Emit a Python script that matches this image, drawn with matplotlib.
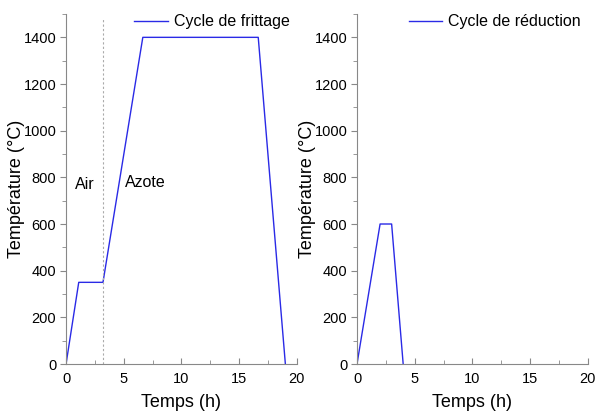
import matplotlib.pyplot as plt
from matplotlib.ticker import MultipleLocator

# Data
t_frittage = [0, 1.1, 3.2, 6.65, 16.65, 19]
T_frittage = [0, 350, 350, 1400, 1400, 0]
t_reduction = [0, 2, 3, 4]
T_reduction = [0, 600, 600, 0]
t_switch = 3.2  # changement d'atmosphère air -> azote

plt.rcParams['font.family'] = ['Liberation Sans', 'DejaVu Sans']
line_color = '#2a2ae6'

fig = plt.figure(figsize=(5.95, 4.12), dpi=100)
ax1 = fig.add_axes([0.111, 0.1165, 0.388, 0.8495])
ax2 = fig.add_axes([0.600, 0.1165, 0.388, 0.8495])

ax1.plot(t_frittage, T_frittage, color=line_color, lw=1, label='Cycle de frittage')
ax1.axvline(t_switch, ymin=0, ymax=0.985, color='#aaaaaa', lw=0.8, ls=(0, (2, 2)))
ax1.text(0.75, 770, 'Air', fontsize=11.5, va='center')
ax1.text(5.1, 780, 'Azote', fontsize=11.5, va='center')

ax2.plot(t_reduction, T_reduction, color=line_color, lw=1, label='Cycle de réduction')

for ax in (ax1, ax2):
    ax.set_xlim(0, 20)
    ax.set_ylim(0, 1500)
    ax.set_yticks(range(0, 1401, 200))
    ax.xaxis.set_major_locator(MultipleLocator(5))
    ax.xaxis.set_minor_locator(MultipleLocator(2.5))
    ax.yaxis.set_minor_locator(MultipleLocator(100))
    ax.spines['top'].set_visible(False)
    ax.spines['right'].set_visible(False)
    for s in ('left', 'bottom'):
        ax.spines[s].set_color('#888888')
        ax.spines[s].set_linewidth(0.8)
    ax.tick_params(which='both', colors='#888888', labelcolor='black', labelsize=10.5)
    ax.tick_params(axis='y', which='both', direction='out')
    ax.tick_params(axis='x', which='both', direction='in')
    ax.tick_params(which='major', length=4, pad=3)
    ax.tick_params(which='minor', length=3)
    ax.tick_params(axis='x', which='major', pad=6)
    ax.set_xlabel('Temps (h)', fontsize=13, labelpad=5.5)
    ax.set_ylabel('Température (°C)', fontsize=13, labelpad=-1)
    ax.legend(loc='upper right', bbox_to_anchor=(1.03, 1.04), frameon=False,
              fontsize=11.5, handlelength=2.1, handletextpad=0.35)

fig.savefig('out.png', dpi=100)
